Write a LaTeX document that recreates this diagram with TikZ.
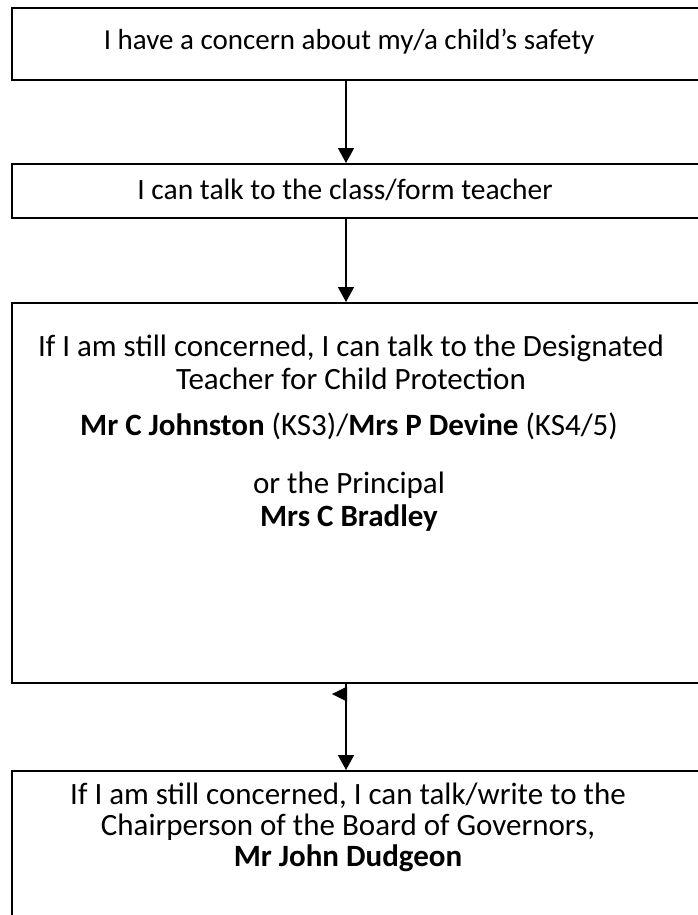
\documentclass[tikz,border=0pt]{standalone}
\usepackage{fontspec}
\setmainfont{Carlito}
\usetikzlibrary{arrows.meta}
\begin{document}
\begin{tikzpicture}[x=1pt,y=-1pt,
  box/.style={draw, line width=1.8pt, inner sep=0pt, anchor=north west, minimum width=700pt},
  txt/.style={inner sep=0pt, align=center, font=\fontsize{29}{33}\selectfont},
  bigtxt/.style={inner sep=0pt, align=center, font=\fontsize{31}{33}\selectfont},
  arr/.style={line width=1.5pt, -{Triangle[width=16pt,length=15pt]}}]
\useasboundingbox (0,0) rectangle (698,915);
\clip (0,0) rectangle (698,915);
\fill[white] (0,0) rectangle (698,915);
% boxes
\node[box, minimum height=72pt] (b1) at (11,7) {};
\node[box, minimum height=54pt] (b2) at (11,163) {};
\node[box, minimum height=380pt] (b3) at (11,302) {};
\node[box, minimum height=200pt] (b4) at (11,770) {};
% texts
\node[txt] (t1) at (349,42) {I have a concern about my/a child’s safety};
\node[txt, font=\fontsize{29.5}{33}\selectfont] (t2) at (345,190) {I can talk to the class/form teacher};
\node[bigtxt] (t3a) at (351,362) {If I am still concerned, I can talk to the Designated\\Teacher for Child Protection};
\node[bigtxt] (t3b) at (349,426) {\textbf{Mr C Johnston} (KS3)/\textbf{Mrs P Devine} (KS4/5)};
\node[bigtxt] (t3c) at (349,502) {or the Principal\\\textbf{Mrs C Bradley}};
\node[bigtxt, font=\fontsize{31}{31}\selectfont] (t4) at (348,827) {If I am still concerned, I can talk/write to the\\Chairperson of the Board of Governors,\\\textbf{Mr John Dudgeon}};
% connectors
\coordinate (ax) at (346,0);
\draw[arr] (ax |- b1.south) -- (ax |- b2.north);
\draw[arr] (ax |- b2.south) -- (ax |- b3.north);
\draw[arr] (ax |- b3.south) -- (ax |- b4.north);
% stray arrow tip
\coordinate (stray) at (347,694);
\fill (stray) ++(0,-7.5) -- ++(-15,7.5) -- ++(15,7.5) -- cycle;
\end{tikzpicture}
\end{document}
